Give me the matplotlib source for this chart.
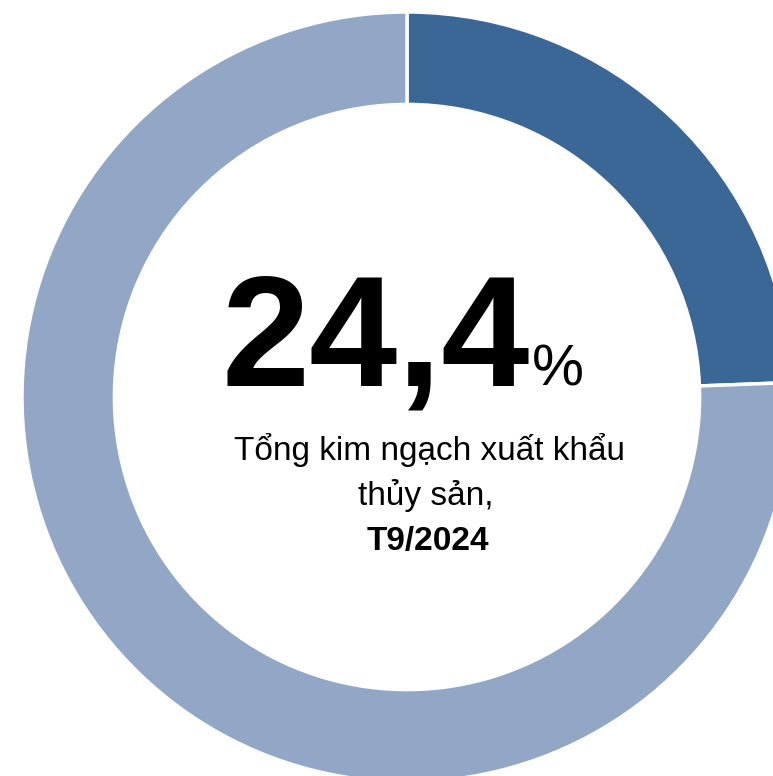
import matplotlib.pyplot as plt

# du lieu
labels = ['Thị trường', 'Còn lại']
values = [24.4, 75.6]
colors = ['#3A6795', '#91A7C5']
big_value = '24,4'
sub_lines = ['Tổng kim ngạch xuất khẩu', 'thủy sản,']
period = 'T9/2024'

W, H = 773, 776
fig = plt.figure(figsize=(W / 100, H / 100), dpi=100)
ax = fig.add_axes([0, 0, 1, 1])

# vong tron (toa do pixel, goc tren-trai)
cx, cy, r = 407, 397, 385
ax.pie(values, colors=colors, startangle=90, counterclock=False,
       center=(cx, H - cy), radius=r,
       wedgeprops=dict(width=r * 0.24, edgecolor='white', linewidth=2.5))
ax.set_xlim(0, W)
ax.set_ylim(0, H)
ax.set_aspect('equal')
ax.axis('off')

font = 'Liberation Sans'
ax.text(530, H - 386, big_value, ha='right', va='baseline',
        fontsize=114, fontweight='bold', family=font, color='black')
ax.text(532, H - 386, '%', ha='left', va='baseline',
        fontsize=42, family=font, color='black')
ax.text(430, H - 460, sub_lines[0], ha='center', va='baseline',
        fontsize=24, family=font)
ax.text(426, H - 505, sub_lines[1], ha='center', va='baseline',
        fontsize=24, family=font)
ax.text(428, H - 550, period, ha='center', va='baseline',
        fontsize=24, fontweight='bold', family=font)

fig.savefig('out.png', dpi=100)
